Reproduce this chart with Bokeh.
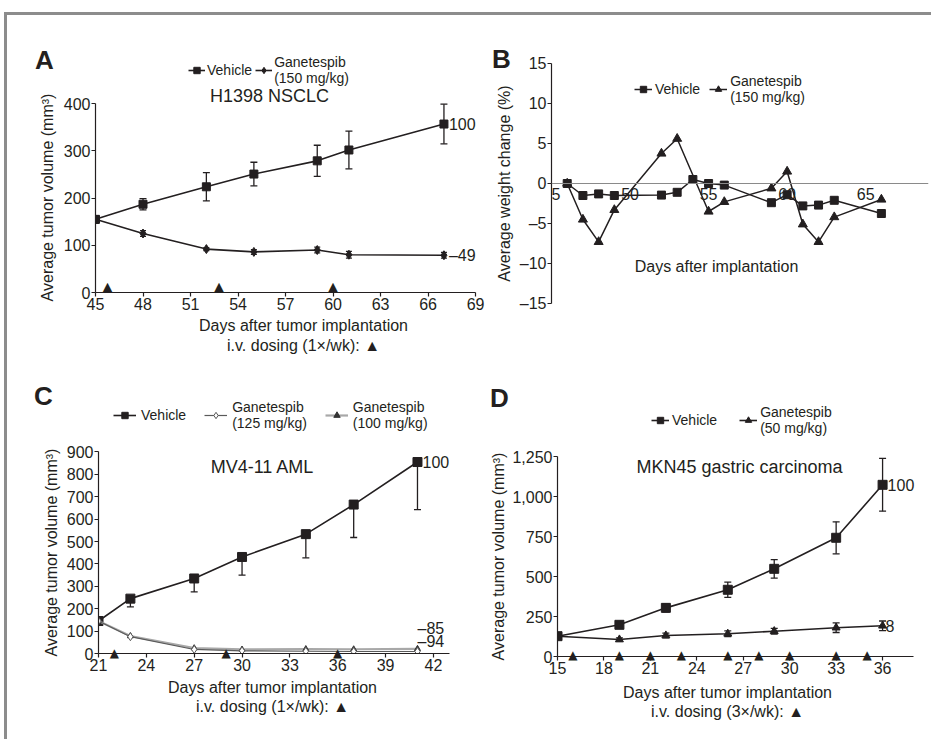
from bokeh.plotting import figure
from bokeh.models import (ColumnDataSource, Whisker, TeeHead, Label, LabelSet, LinearAxis,
                          Legend, LegendItem, Span, FixedTicker, NumeralTickFormatter, Range1d)
from bokeh.layouts import row, column
from bokeh.core.properties import value
from bokeh.embed import file_html
from bokeh.resources import INLINE

# ---------------- data ----------------
# Panel A  (H1398 NSCLC)
A_days = [45, 48, 52, 55, 59, 61, 67]
A_vehicle = [155, 187, 224, 251, 279, 302, 357]
A_vehicle_err = [8, 12, 30, 25, 33, 40, 42]
A_gan = [155, 125, 92, 86, 90, 80, 79]
A_gan_err = [8, 6, 3, 5, 6, 7, 6]
A_dose_days = [45.75, 52.8, 60]
A_xticks = [45, 48, 51, 54, 57, 60, 63, 66, 69]
A_yticks = [0, 100, 200, 300, 400]
A_end = ["100", "\u201349"]

# Panel B  (body weight)
B_veh_days = [46, 47, 48, 49, 52, 53, 54, 55, 56, 59, 60, 61, 62, 63, 66]
B_veh = [0, -1.5, -1.3, -1.5, -1.45, -1.1, 0.5, 0, -0.2, -2.4, -1.4, -2.8, -2.7, -2.1, -3.75]
B_gan_days = [46, 47, 48, 49, 52, 53, 55, 56, 59, 60, 61, 62, 63, 66]
B_gan = [0, -4.5, -7.3, -3.3, 3.75, 5.6, -3.5, -2.3, -0.6, 1.5, -5.1, -7.3, -4.2, -2.0]
B_xticks = [45, 50, 55, 60, 65]
B_yticks = [-15, -10, -5, 0, 5, 10, 15]

# Panel C  (MV4-11 AML)
C_days = [21, 23, 27, 30, 34, 37, 41]
C_vehicle = [145, 245, 335, 431, 533, 665, 855]
C_vehicle_err = [0, 37, 60, 81, 106, 147, 213]
C_g125 = [145, 75, 18, 12, 10, 9, 9]
C_g100 = [145, 78, 24, 18, 20, 19, 21]
C_dose_days = [22, 29, 36]
C_xticks = [21, 24, 27, 30, 33, 36, 39, 42]
C_yticks = [0, 100, 200, 300, 400, 500, 600, 700, 800, 900]
C_end = ["100", "\u201385", "\u201394"]

# Panel D  (MKN45 gastric carcinoma)
D_days = [15, 19, 22, 26, 29, 33, 36]
D_vehicle = [127, 198, 304, 417, 548, 742, 1073]
D_vehicle_err = [8, 20, 25, 48, 58, 100, 165]
D_gan = [127, 106, 131, 142, 158, 180, 192]
D_gan_err = [8, 10, 15, 18, 18, 30, 30]
D_dose_days = [16, 19, 21, 23, 26, 28, 30, 33, 35]
D_xticks = [15, 18, 21, 24, 27, 30, 33, 36]
D_yticks = [0, 250, 500, 750, 1000, 1250]
D_end = ["100", "8"]

FONT = "Liberation Sans"
INK = "#231f20"
YLAB = "Average tumor volume (mm\u00b3)"


def blank(left, top, w, h, bl=0, bb=0):
    """Text-only figure; data units are pixels measured from its frame's bottom-left."""
    p = figure(width=w, height=h, x_range=Range1d(0, w - bl), y_range=Range1d(0, h - bb),
               x_axis_type=None, y_axis_type=None, title_location=None,
               min_border_left=bl, min_border_right=0, min_border_top=0, min_border_bottom=bb,
               output_backend="svg", toolbar_location=None, tools="")
    p.outline_line_color = None
    p.background_fill_color = "white"
    p.border_fill_color = "white"
    p._FL = left + bl
    p._FB = top + h - bb
    return p


def main_fig(left, top, w, h, bl, br, bb, xr, yr, xticks, yticks, xb, yb):
    p = figure(width=w, height=h, x_range=Range1d(*xr), y_range=Range1d(*yr), title_location=None,
               min_border_left=bl, min_border_right=br, min_border_top=0, min_border_bottom=bb,
               output_backend="svg", toolbar_location=None, tools="")
    p.outline_line_color = None
    p.xgrid.visible = False
    p.ygrid.visible = False
    p.background_fill_color = "white"
    p.border_fill_color = "white"
    for ax in p.axis:
        ax.axis_line_color = INK
        ax.axis_line_width = 1.2
        ax.major_tick_line_color = INK
        ax.major_tick_line_width = 1.2
        ax.major_tick_out = 4
        ax.major_tick_in = 0
        ax.minor_tick_line_color = None
        ax.major_label_text_font = FONT
        ax.major_label_text_font_size = "16px"
        ax.major_label_text_color = INK
        ax.major_label_standoff = 1
    p.xaxis.ticker = FixedTicker(ticks=xticks)
    p.yaxis.ticker = FixedTicker(ticks=yticks)
    p.xaxis.bounds = xb
    p.yaxis.bounds = yb
    p._FL = left + bl
    p._FB = top + h - bb
    return p


def txt(p, px, py, text, size=16, bold=False, angle=0, align="center"):
    """Place text at page pixel (px, py), converted to the figure's frame coordinates."""
    p.add_layout(Label(x=px - p._FL, y=p._FB - py, x_units="screen", y_units="screen",
                       text=text, text_font=FONT, text_font_size=f"{size}px",
                       text_font_style="bold" if bold else "normal", angle=angle,
                       angle_units="deg", text_align=align, text_baseline="middle",
                       text_color=INK))


def end_label(p, x, y, text, dx=5, dy=0):
    p.add_layout(Label(x=x, y=y, text=text, x_offset=dx, y_offset=dy,
                       text_font=FONT, text_font_size="16px", text_color=INK,
                       text_align="left", text_baseline="middle"))


def errbars(p, xs, ys, errs, up=True, head=7):
    src = ColumnDataSource(dict(x=xs,
                                upper=[y + e for y, e in zip(ys, errs)] if up else list(ys),
                                lower=[y - e for y, e in zip(ys, errs)]))
    w = Whisker(source=src, base="x", upper="upper", lower="lower", dimension="height",
                line_color=INK, line_width=1.3,
                upper_head=TeeHead(size=head, line_color=INK, line_width=1.3) if up else None,
                lower_head=TeeHead(size=head, line_color=INK, line_width=1.3))
    p.add_layout(w)


def dosing_in_frame(p, days, dy=6, size=13):
    src = ColumnDataSource(dict(x=days, y=[0] * len(days), t=["\u25b2"] * len(days)))
    p.add_layout(LabelSet(source=src, x="x", y="y", text="t", y_offset=dy,
                          text_font=value("DejaVu Sans"), text_font_size=value(f"{size}px"),
                          text_color=INK, text_align="center", text_baseline="middle"))


def dosing_axis(p, days, standoff):
    """Dosing marks drawn as tick labels of a second bottom axis, pulled up onto the x axis."""
    ax = LinearAxis(ticker=FixedTicker(ticks=days),
                    major_label_overrides={d: "\u25b2" for d in days},
                    axis_line_color=None, major_tick_line_color=None, minor_tick_line_color=None,
                    major_tick_out=0, major_tick_in=0, major_label_standoff=standoff,
                    major_label_text_font="DejaVu Sans", major_label_text_font_size="12px",
                    major_label_text_color=INK)
    p.add_layout(ax, "below")


def legend(p, items, left_page, bottom_page, spacing, glyph_w=18, standoff=3):
    lg = Legend(items=items, location=(left_page - p._FL, p._FB - bottom_page),
                orientation="horizontal", label_text_font=FONT, label_text_font_size="14px",
                label_text_color=INK, glyph_width=glyph_w, glyph_height=16,
                label_standoff=standoff, spacing=spacing, padding=0, margin=0,
                border_line_color=None, background_fill_alpha=0, label_height=16)
    p.add_layout(lg)


# ---------------- Panel A ----------------
sA = blank(7, 15, 53, 365)
txt(sA, 44, 59, "A", 26, True)
txt(sA, 47, 197, YLAB, angle=90)
mA = main_fig(60, 15, 427, 302, 34, 0, 25, (45, 69.75), (0, 587), A_xticks, A_yticks,
              (45, 69), (0, 400))
errbars(mA, A_days, A_vehicle, A_vehicle_err)
errbars(mA, A_days, A_gan, A_gan_err, head=6)
aV_l = mA.line(A_days, A_vehicle, line_color=INK, line_width=1.6)
aV_s = mA.scatter(A_days, A_vehicle, marker="square", size=8, color=INK)
aG_l = mA.line(A_days, A_gan, line_color=INK, line_width=1.6)
aG_s = mA.scatter(A_days, A_gan, marker="diamond", size=9, color=INK)
dosing_in_frame(mA, A_dose_days)
end_label(mA, A_days[-1], A_vehicle[-1], A_end[0])
end_label(mA, A_days[-1], A_gan[-1], A_end[1])
legend(mA, [LegendItem(label="Vehicle", renderers=[aV_l, aV_s]),
            LegendItem(label="Ganetespib\n(150 mg/kg)", renderers=[aG_l, aG_s])],
       187, 86, 3, 17, 2)
txt(mA, 268, 95, "H1398 NSCLC", 18)
fA = blank(60, 317, 427, 63, bl=34)
txt(fA, 302, 325, "Days after tumor implantation")
txt(fA, 302, 345, "i.v. dosing (1\u00d7/wk): \u25b2")
panelA = row(sA, column(mA, fA))

# ---------------- Panel B ----------------
sB = blank(487, 15, 28, 365, bb=77)
txt(sB, 501, 58, "B", 26, True)
txt(sB, 504, 183, "Average weight change (%)", angle=90)
mB = main_fig(515, 15, 416, 365, 36, 3, 77, (45, 69), (-15, 21), B_xticks, B_yticks,
              (45, 69), (-15, 15))
mB.xaxis.visible = False
mB.yaxis.major_label_overrides = {-5: "\u20135", -10: "\u201310", -15: "\u201315"}
mB.add_layout(Span(location=0, dimension="width", line_color="#8a8a8a", line_width=1.2))
bV_l = mB.line(B_veh_days, B_veh, line_color=INK, line_width=1.5)
bV_s = mB.scatter(B_veh_days, B_veh, marker="square", size=8, color=INK)
bG_l = mB.line(B_gan_days, B_gan, line_color=INK, line_width=1.5)
bG_s = mB.scatter(B_gan_days, B_gan, marker="triangle", size=9, color=INK)
bsrc = ColumnDataSource(dict(x=B_xticks, y=[0] * len(B_xticks), t=[str(t) for t in B_xticks]))
mB.add_layout(LabelSet(source=bsrc, x="x", y="y", text="t", y_offset=-4,
                       text_font=value(FONT), text_font_size=value("16px"), text_color=INK,
                       text_align="center", text_baseline="top"))
legend(mB, [LegendItem(label="Vehicle", renderers=[bV_l, bV_s]),
            LegendItem(label="Ganetespib\n(150 mg/kg)", renderers=[bG_l, bG_s])],
       634, 105, 9, 18, 3)
txt(mB, 716, 266, "Days after implantation")
panelB = row(sB, mB)

# ---------------- Panel C ----------------
sC = blank(7, 380, 56, 359)
txt(sC, 43, 395, "C", 26, True)
txt(sC, 51, 552, YLAB, angle=90)
mC = main_fig(63, 380, 424, 298, 35, 0, 25, (21, 45.39), (0, 1219), C_xticks, C_yticks,
              (21, 43), (0, 900))
errbars(mC, C_days, C_vehicle, C_vehicle_err, up=False)
cV_l = mC.line(C_days, C_vehicle, line_color=INK, line_width=1.6)
cV_s = mC.scatter(C_days, C_vehicle, marker="square", size=9, color=INK)
c100_l = mC.line(C_days, C_g100, line_color="#a8a8a8", line_width=2.2)
c100_s = mC.scatter(C_days, C_g100, marker="triangle", size=6, color="#333333")
c125_l = mC.line(C_days, C_g125, line_color="#5a5a5a", line_width=1.2)
c125_s = mC.scatter(C_days, C_g125, marker="diamond", size=8, fill_color="white",
                    line_color="#5a5a5a", line_width=1)
dosing_axis(mC, C_dose_days, -28)
end_label(mC, C_days[-1], C_vehicle[-1], C_end[0])
end_label(mC, C_days[-1], C_g100[-1], C_end[1], dx=0, dy=20)
end_label(mC, C_days[-1], C_g125[-1], C_end[2], dx=0, dy=10)
legend(mC, [LegendItem(label="Vehicle", renderers=[cV_l, cV_s]),
            LegendItem(label="Ganetespib\n(125 mg/kg)", renderers=[c125_l, c125_s]),
            LegendItem(label="Ganetespib\n(100 mg/kg)", renderers=[c100_l, c100_s])],
       113, 431, 18, 23, 5)
txt(mC, 262, 466, "MV4-11 AML", 18)
fC = blank(63, 678, 424, 61, bl=35)
txt(fC, 272, 687, "Days after tumor implantation")
txt(fC, 272, 706, "i.v. dosing (1\u00d7/wk): \u25b2")
panelC = row(sC, column(mC, fC))

# ---------------- Panel D ----------------
sD = blank(487, 380, 22, 359)
txt(sD, 499, 397, "D", 26, True)
txt(sD, 498, 556, YLAB, angle=90)
mD = main_fig(509, 380, 422, 301, 46, 0, 25, (15, 39.16), (0, 1725), D_xticks, D_yticks,
              (15, 38), (0, 1250))
mD.yaxis.formatter = NumeralTickFormatter(format="0,0")
errbars(mD, D_days, D_vehicle, D_vehicle_err)
errbars(mD, D_days, D_gan, D_gan_err)
dV_l = mD.line(D_days, D_vehicle, line_color=INK, line_width=1.6)
dV_s = mD.scatter(D_days, D_vehicle, marker="square", size=9, color=INK)
dG_l = mD.line(D_days, D_gan, line_color=INK, line_width=1.6)
dG_s = mD.scatter(D_days, D_gan, marker="triangle", size=8, color=INK)
dosing_axis(mD, D_dose_days, -29)
end_label(mD, D_days[-1], D_vehicle[-1], D_end[0])
end_label(mD, D_days[-1], D_gan[-1], D_end[1], dx=3)
legend(mD, [LegendItem(label="Vehicle", renderers=[dV_l, dV_s]),
            LegendItem(label="Ganetespib\n(50 mg/kg)", renderers=[dG_l, dG_s])],
       649, 436, 22, 18, 3)
txt(mD, 737, 466, "MKN45 gastric carcinoma", 18)
fD = blank(509, 681, 422, 58, bl=46)
txt(fD, 725, 692, "Days after tumor implantation")
txt(fD, 725, 711, "i.v. dosing (3\u00d7/wk): \u25b2")
panelD = row(sD, column(mD, fD))

layout = column(row(panelA, panelB), row(panelC, panelD), margin=(12, 0, 0, 4),
                styles={"border-top": "3px solid #8c8c8c", "border-left": "3px solid #8c8c8c"})

open("out.html", "w").write(file_html(layout, INLINE))
